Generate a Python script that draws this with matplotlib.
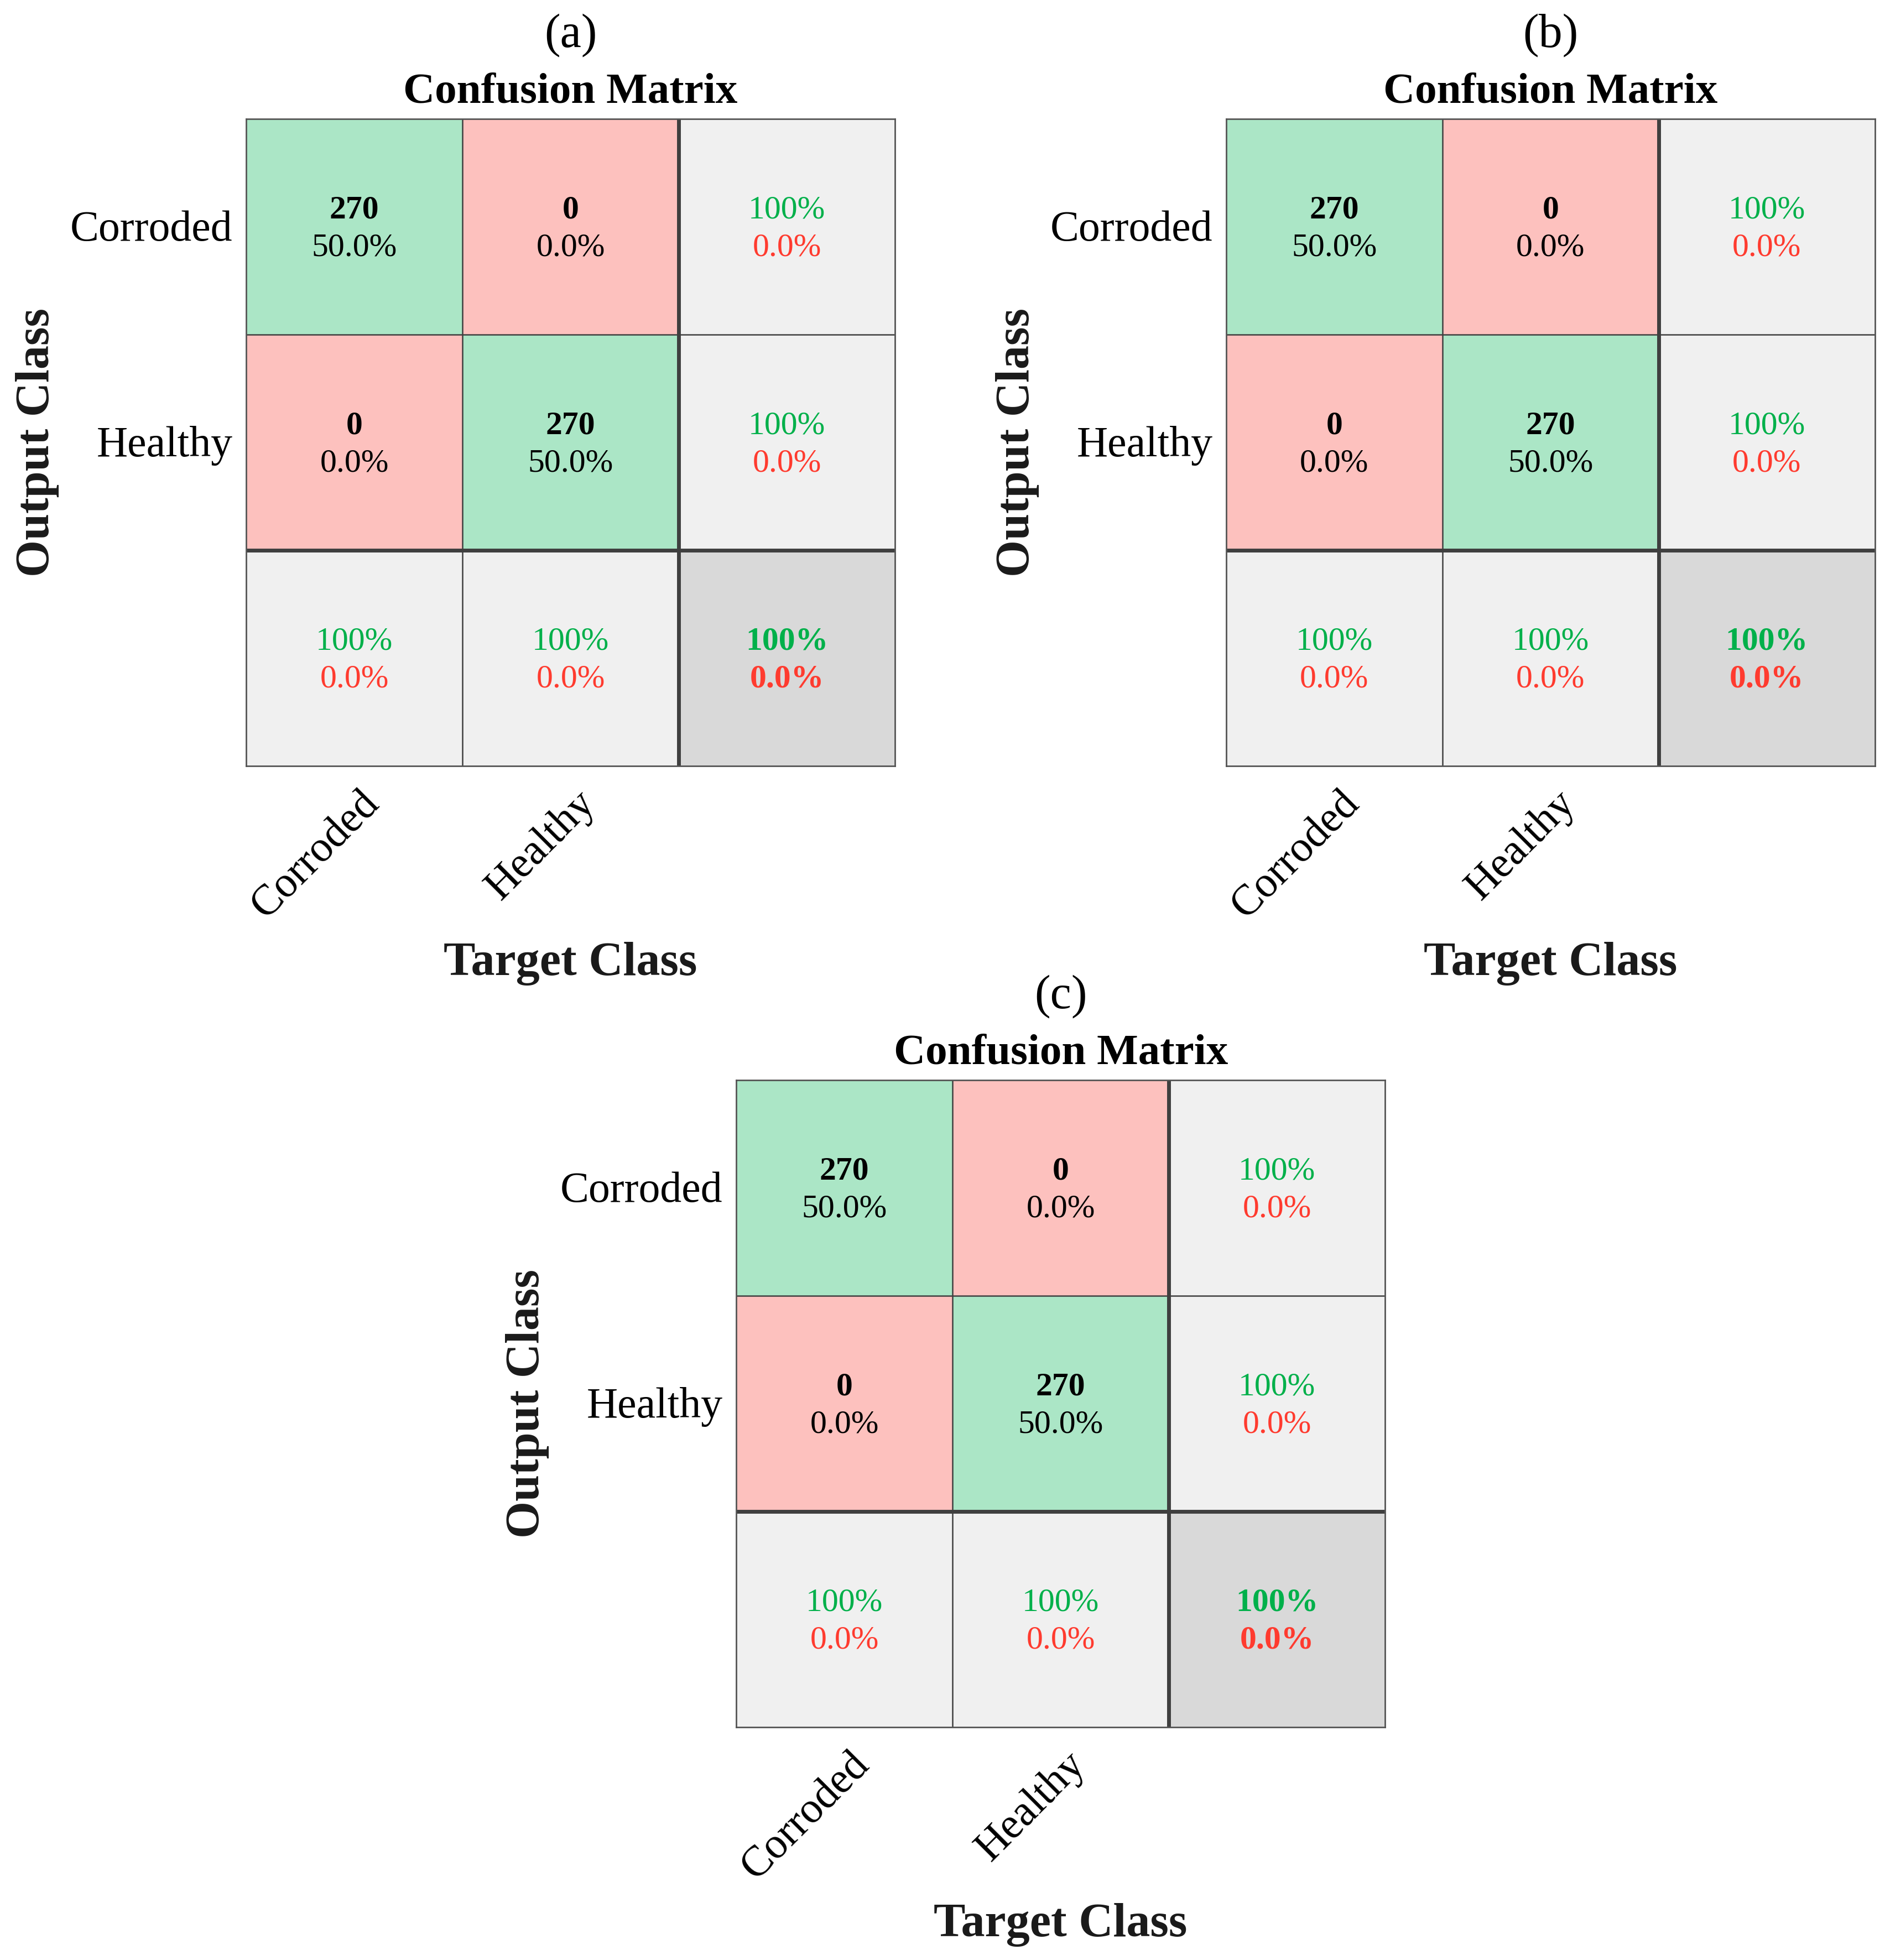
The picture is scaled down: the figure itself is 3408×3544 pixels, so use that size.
import matplotlib
matplotlib.use("Agg")
import matplotlib.pyplot as plt
import numpy as np
from matplotlib.colors import ListedColormap

plt.rcParams['font.family'] = ['Liberation Serif', 'DejaVu Serif']

# Data (identical results)
class_names = ['Corroded', 'Healthy']
panel_labels = ['(a)', '(b)', '(c)']
counts_a = [[270, 0], [0, 270]]
counts_b = [[270, 0], [0, 270]]
counts_c = [[270, 0], [0, 270]]
panel_counts = [counts_a, counts_b, counts_c]

# colours
green_cell = '#ABE6C6'
red_cell = '#FDC1BE'
grey_cell = '#F0F0F0'
dark_cell = '#D9D9D9'
green_txt = '#00B04A'
red_txt = '#FF3B2F'
line_col = '#3F3F3F'

fig = plt.figure(figsize=(34.08, 35.44), dpi=100)

positions = [
    [0.1306, 0.6092, 0.3442, 0.3301],
    [0.6505, 0.6092, 0.3442, 0.3301],
    [0.3906, 0.1188, 0.3442, 0.3301],
]


def draw_matrix(ax, counts, label):
    cm = np.array(counts, dtype=float)
    n = cm.shape[0]
    total = cm.sum()

    # colour index grid: 0 green, 1 red, 2 grey, 3 dark grey
    idx = np.full((n + 1, n + 1), 2)
    for i in range(n):
        for j in range(n):
            idx[i, j] = 0 if i == j else 1
    idx[n, n] = 3
    cmap = ListedColormap([green_cell, red_cell, grey_cell, dark_cell])
    ax.pcolormesh(np.arange(n + 2), np.arange(n + 2), idx, cmap=cmap,
                  vmin=-0.5, vmax=3.5)
    ax.set_xlim(0, n + 1)
    ax.set_ylim(n + 1, 0)

    # grid lines
    for k in range(1, n):
        ax.axhline(k, color=line_col, lw=1.8)
        ax.axvline(k, color=line_col, lw=1.8)
    ax.axhline(n, color=line_col, lw=5)
    ax.axvline(n, color=line_col, lw=5)
    for s in ax.spines.values():
        s.set_color('#555555')
        s.set_linewidth(2)

    dy = 0.087
    c0 = 0.512  # vertical centre of the text pair inside a cell
    fs = 43
    for i in range(n):
        for j in range(n):
            ax.text(j + 0.5, i + c0 - dy, f'{int(cm[i, j])}', ha='center', va='center',
                    fontsize=fs, fontweight='bold', color='black')
            ax.text(j + 0.5, i + c0 + dy, f'{100 * cm[i, j] / total:.1f}%', ha='center',
                    va='center', fontsize=fs, color='black')

    def pct(v):
        return '100%' if v == 100 else f'{v:.1f}%'

    # row summaries (precision)
    for i in range(n):
        acc = 100 * cm[i, i] / cm[i, :].sum()
        ax.text(n + 0.5, i + c0 - dy, pct(acc), ha='center', va='center',
                fontsize=fs, color=green_txt)
        ax.text(n + 0.5, i + c0 + dy, f'{100 - acc:.1f}%', ha='center', va='center',
                fontsize=fs, color=red_txt)
    # column summaries (recall)
    for j in range(n):
        acc = 100 * cm[j, j] / cm[:, j].sum()
        ax.text(j + 0.5, n + c0 - dy, pct(acc), ha='center', va='center',
                fontsize=fs, color=green_txt)
        ax.text(j + 0.5, n + c0 + dy, f'{100 - acc:.1f}%', ha='center', va='center',
                fontsize=fs, color=red_txt)
    overall = 100 * np.trace(cm) / total
    ax.text(n + 0.5, n + c0 - dy, pct(overall), ha='center', va='center',
            fontsize=fs, fontweight='bold', color=green_txt)
    ax.text(n + 0.5, n + c0 + dy, f'{100 - overall:.1f}%', ha='center', va='center',
            fontsize=fs, fontweight='bold', color=red_txt)

    ax.set_xticks([])
    ax.set_yticks([])

    # row labels
    for i, name in enumerate(class_names):
        ax.text(-0.021, 1 - (i + 0.5) / (n + 1) - 0.005, name, transform=ax.transAxes,
                ha='right', va='center', fontsize=56)
    # rotated column labels
    for j, name in enumerate(class_names):
        ax.text((j + 0.5) / (n + 1) + 0.029, -0.048, name, transform=ax.transAxes,
                ha='right', va='center', rotation=45, rotation_mode='anchor', fontsize=56)

    ax.text(0.5, 1.041, 'Confusion Matrix', transform=ax.transAxes, ha='center',
            va='center', fontsize=57, fontweight='bold')
    ax.text(0.5, 1.129, label, transform=ax.transAxes, ha='center', va='center',
            fontsize=62)
    ax.text(0.5, -0.306, 'Target Class', transform=ax.transAxes, ha='center',
            va='center', fontsize=62, fontweight='bold', color='#1a1a1a')
    ax.text(-0.322, 0.5, 'Output Class', transform=ax.transAxes, ha='center',
            va='center', rotation=90, fontsize=62, fontweight='bold', color='#1a1a1a')


for pos, counts, label in zip(positions, panel_counts, panel_labels):
    ax = fig.add_axes(pos)
    draw_matrix(ax, counts, label)

fig.savefig('out.png', dpi=100)
